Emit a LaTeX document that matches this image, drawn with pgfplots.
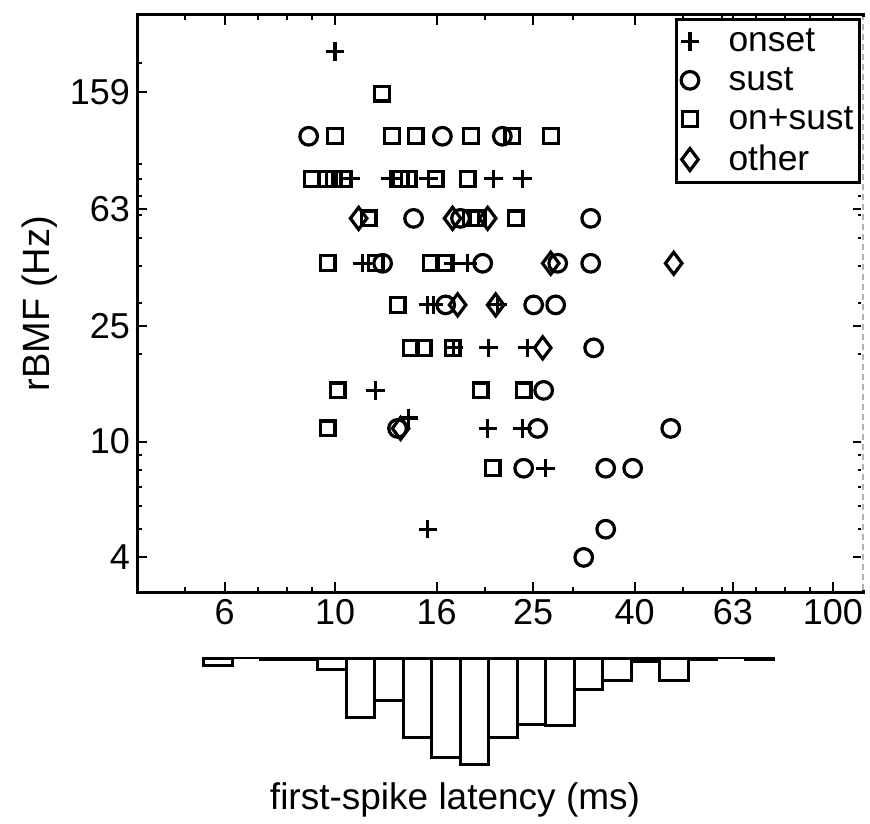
\documentclass[border=0pt]{standalone}
\usepackage{fontspec}
\setmainfont{Liberation Sans}
\usepackage{pgfplots}
\pgfplotsset{compat=1.18}
\usetikzlibrary{calc}

\begin{document}
\begin{tikzpicture}
\begin{axis}[
  name=main,
  scale only axis, width=363pt, height=288.5pt,
  xmode=log, ymode=log,
  xmin=4.0, xmax=115, ymin=3.042, ymax=292.4,
  xtick={6,10,16,25,40,63,100},
  xticklabels={6,10,16,25,40,63,100},
  ytick={4,10,25,63,159},
  yticklabels={4,10,25,63,159},
  minor xtick={5,7,8,9,20,30,50,60,70,80,90},
  minor ytick={5,6,7,8,9,20,30,40,50,60,70,80,90,200},
  tick align=inside,
  major tick length=5pt, minor tick length=2.5pt,
  every tick/.style={line width=1pt, black},
  axis line style={line width=1.5pt},
  ticklabel style={font=\fontsize{18}{20}\selectfont},
  /pgf/number format/assume math mode=true,
  ylabel={rBMF (Hz)},
  every axis y label/.style={at={(axis description cs:-0.1336,0.5)}, rotate=90, anchor=center, font=\fontsize{19}{21}\selectfont},
  legend style={at={(1,1)}, anchor=north east, xshift=-1pt, yshift=-1.5pt,
    draw=black, line width=1.5pt, font=\fontsize{17.7}{19}\selectfont,
    inner xsep=2pt, inner ysep=3.5pt, row sep=4.5pt,
    nodes={inner sep=1pt}},
  legend cell align=left,
  legend image code/.code={\draw[#1] plot coordinates {(0.36cm,0cm)}; \node[draw=none, fill=none, inner sep=0pt, minimum width=0.65cm, minimum height=1pt] at (0.325cm,0cm) {};},
]
\addplot[only marks, mark=+, mark size=4.6pt, line width=1.6pt] coordinates {
(10.0,219)
(10.74,80) (12.93,80) (15.42,80) (20.83,80) (23.82,80)
(11.36,41) (17.31,41) (18.47,41)
(15.35,29.5) (15.78,29.5) (21.21,29.5)
(17.31,21) (20.35,21) (24.37,21)
(12.06,15)
(14.05,12.05)
(20.26,11.1) (23.82,11.1)
(26.49,8.1)
(15.35,5)
};
\addlegendentry{onset}
\addplot[only marks, mark=o, mark size=4.4pt, line width=1.6pt] coordinates {
(8.85,112) (16.43,112) (21.68,112)
(14.38,58.5) (17.87,58.5) (32.63,58.5)
(12.46,41) (19.80,41) (28.01,41) (32.63,41)
(16.68,29.5) (25.06,29.5) (27.75,29.5)
(33.08,21)
(26.25,15)
(13.35,11.1) (25.53,11.1) (47.25,11.1)
(23.93,8.1) (34.97,8.1) (39.63,8.1)
(34.97,5) (31.59,4)
};
\addlegendentry{sust}
\addplot[only marks, mark=square, mark size=3.7pt, line width=1.6pt] coordinates {
(12.44,157)
(10.0,112) (13.03,112) (14.51,112) (18.73,112) (22.71,112) (27.12,112)
(9.00,80) (9.57,80) (9.93,80) (10.40,80) (13.54,80) (14.05,80) (15.92,80) (18.47,80)
(11.68,58.5) (18.73,58.5) (19.34,58.5) (23.06,58.5)
(9.66,41) (12.06,41) (15.56,41) (16.53,41)
(13.35,29.5)
(14.18,21) (15.06,21) (17.22,21)
(10.12,15) (19.61,15) (23.93,15)
(9.66,11.1)
(20.73,8.1)
};
\addlegendentry{on+sust}
\addplot[only marks, mark=diamond, mark size=5.5pt, line width=1.6pt] coordinates {
(11.15,58.5) (17.22,58.5) (20.26,58.5)
(27.12,41) (47.90,41)
(17.63,29.5) (21.02,29.5)
(26.13,21)
(13.54,11.1)
};
\addlegendentry{other}
\end{axis}

% right frame edge: thin dashed grey as in the reference
\draw[white, line width=2pt] ($(main.south east)+(0,1pt)$) -- ($(main.north east)+(0,-1pt)$);
\draw[gray!60, densely dashed, line width=0.7pt] ($(main.south east)+(0,1pt)$) -- ($(main.north east)+(0,-1pt)$);

\begin{axis}[
  at={($(main.south west)+(0,-33pt)$)}, anchor=north west,
  scale only axis, width=363pt, height=53.5pt,
  xmode=log, xmin=4.0, xmax=115,
  ymin=0, ymax=108, y dir=reverse,
  hide axis, clip=false,
]
\addplot[black, line width=0.8pt] coordinates {(5.441,0) (76.12,0)};
\addplot[ybar interval, draw=black, fill=white, line width=1.5pt] coordinates {
(5.441,7.3) (6.208,7.3)
};
\addplot[ybar interval, draw=black, fill=white, line width=1.5pt] coordinates {
(7.084,2) (8.083,2) (9.222,11.7) (10.52,60) (12.00,43) (13.70,80) (15.63,100)
(17.83,107) (20.35,80) (23.22,67) (26.49,68) (30.23,32) (34.49,23) (39.36,4)
(44.91,23) (51.24,2) (58.47,2)
};
\addplot[ybar interval, draw=black, fill=white, line width=1.5pt] coordinates {
(66.71,2) (76.12,2)
};
\end{axis}

\node[font=\fontsize{18.5}{20}\selectfont] at (159pt,-104pt) {first-spike latency (ms)};
\path (-68.5pt,-114pt) rectangle (366.5pt,296pt);
\end{tikzpicture}
\end{document}
